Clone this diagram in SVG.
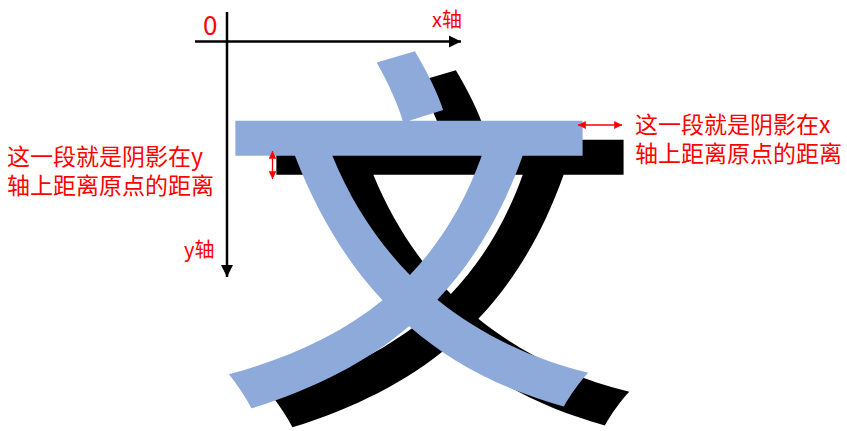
<svg xmlns="http://www.w3.org/2000/svg" width="847" height="431" viewBox="0 0 847 431">
<style>
.lbl{font-family:"Microsoft YaHei","Noto Sans CJK SC","Noto Sans",sans-serif;fill:#ff0000;}
.big{font-family:"Noto Sans CJK SC",sans-serif;font-size:382px;font-weight:500;text-anchor:middle;}
.axis{stroke:#000;stroke-width:2.5;fill:none;}
.red{stroke:#ff0000;stroke-width:1.3;fill:none;}
</style>
<defs>
<marker id="ah" viewBox="0 0 10 10" refX="10" refY="5" markerWidth="5" markerHeight="5" orient="auto-start-reverse" markerUnits="strokeWidth"><path d="M0,0 L10,5 L0,10 z" fill="#000"/></marker>
<marker id="rh" viewBox="0 0 10 10" refX="10" refY="5" markerWidth="6" markerHeight="6" orient="auto-start-reverse" markerUnits="strokeWidth"><path d="M0,0 L10,5 L0,10 z" fill="#ff0000"/></marker>
</defs>
<g id="glyph">
<text class="big" x="449" y="396" fill="#000">文</text>
<text class="big" x="408" y="377" fill="#8eaadb">文</text>
</g>
<g id="connectors">
<line class="axis" x1="195" y1="41.5" x2="461" y2="41.5" marker-end="url(#ah)"/>
<line class="axis" x1="227" y1="12" x2="227" y2="277" marker-end="url(#ah)"/>
<line class="red" x1="578" y1="125" x2="622" y2="125" marker-start="url(#rh)" marker-end="url(#rh)"/>
<line class="red" x1="272.5" y1="151" x2="272.5" y2="179" marker-start="url(#rh)" marker-end="url(#rh)"/>
</g>
<g id="labels">
<text class="lbl" x="203" y="35" font-size="26">0</text>
<text class="lbl" x="432" y="27" font-size="20">x轴</text>
<text class="lbl" x="184" y="257" font-size="20">y轴</text>
<text class="lbl" x="7" y="165" font-size="23">这一段就是阴影在y</text>
<text class="lbl" x="7" y="194" font-size="23">轴上距离原点的距离</text>
<text class="lbl" x="635" y="133" font-size="23">这一段就是阴影在x</text>
<text class="lbl" x="635" y="162" font-size="23">轴上距离原点的距离</text>
</g>
</svg>
